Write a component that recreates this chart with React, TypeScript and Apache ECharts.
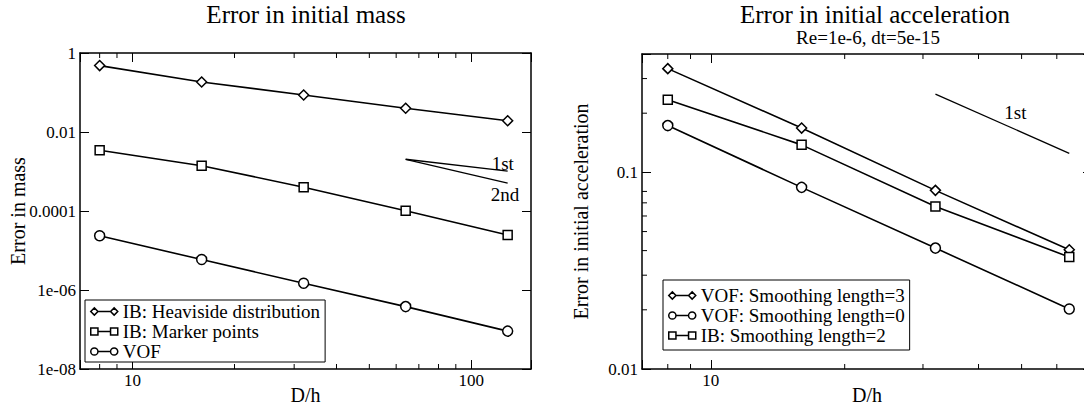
import React, { useEffect, useRef } from "react";
import * as echarts from "echarts";

// ---------- data ----------
const dhMass = [8, 16, 32, 64, 128];
const ibHeaviside = [0.48, 0.185, 0.0865, 0.04, 0.0193];
const ibMarker = [0.00344, 0.0014, 0.0004, 0.000102, 2.47e-5];
const vofMass = [2.37e-5, 5.9e-6, 1.48e-6, 3.8e-7, 9.1e-8];

const slopeMassX = [64, 128];
const slope1Mass = [0.00204, 0.00102];
const slope2Mass = [0.00204, 0.00051];

const dhAcc = [8, 16, 32, 64];
const vofSmooth3 = [0.337, 0.168, 0.081, 0.0404];
const vofSmooth0 = [0.173, 0.0839, 0.0412, 0.0202];
const ibSmooth2 = [0.234, 0.138, 0.0671, 0.0371];

const slopeAccX = [32, 64];
const slope1Acc = [0.25, 0.125];

const massYTickValues = [1e-8, 1e-6, 1e-4, 1e-2, 1];
const massYTickLabels = ["1e-08", "1e-06", "0.0001", "0.01", "1"];
const accYTickValues = [0.01, 0.1];
const accYTickLabels = ["0.01", "0.1"];
const xTickValues = [10, 100];
const xTickLabels = ["10", "100"];

const massMinorX = [8, 9, 20, 30, 40, 50, 60, 70, 80, 90];
const accMinorX = [8, 9, 20, 30, 40, 50, 60, 70];
const accMinorY = [0.02, 0.03, 0.04, 0.05, 0.06, 0.07, 0.08, 0.2, 0.3];

const FONT = "'Liberation Serif', 'Times New Roman', serif";

function labelFor(values: number[], labels: string[]) {
  return (v: number) => {
    for (let i = 0; i < values.length; i++) {
      if (Math.abs(Math.log10(v) - Math.log10(values[i])) < 1e-6) return labels[i];
    }
    return "";
  };
}

function xAxis(gridIndex: number, min: number, max: number, top: boolean) {
  return {
    type: "log",
    gridIndex,
    position: top ? "top" : "bottom",
    min,
    max,
    axisLine: { show: true, onZero: false, lineStyle: { color: "#000", width: 1.5 } },
    axisTick: { show: true, inside: true, length: 9, lineStyle: { color: "#000", width: 1 } },
    splitLine: { show: false },
    axisLabel: {
      show: !top,
      formatter: labelFor(xTickValues, xTickLabels),
      fontFamily: FONT,
      fontSize: 17,
      color: "#000",
      margin: 3,
    },
    name: top ? "" : "D/h",
    nameLocation: "middle",
    nameGap: 16,
    nameMoveOverlap: false,
    nameTextStyle: { fontFamily: FONT, fontSize: 20, color: "#000" },
  };
}

function yAxis(
  gridIndex: number,
  min: number,
  max: number,
  right: boolean,
  interval: number | undefined,
  vals: number[],
  labs: string[],
  name: string,
  nameGap: number
) {
  return {
    type: "log",
    gridIndex,
    position: right ? "right" : "left",
    min,
    max,
    interval,
    axisLine: { show: true, onZero: false, lineStyle: { color: "#000", width: 1.5 } },
    axisTick: { show: true, inside: true, length: 9, lineStyle: { color: "#000", width: 1 } },
    splitLine: { show: false },
    axisLabel: {
      show: !right,
      formatter: labelFor(vals, labs),
      fontFamily: FONT,
      fontSize: 17,
      color: "#000",
      margin: 4,
    },
    name: right ? "" : name,
    nameLocation: "middle",
    nameGap,
    nameMoveOverlap: false,
    nameTextStyle: { fontFamily: FONT, fontSize: 20, color: "#000" },
  };
}

const markerStyle = { color: "#fff", borderColor: "#000", borderWidth: 1.5 };
const lineStyle = { color: "#000", width: 1.6 };

function dataSeries(
  name: string,
  xs: number[],
  ys: number[],
  symbol: string,
  symbolSize: number,
  xi: number,
  yi: number
) {
  return {
    name,
    type: "line",
    xAxisIndex: xi,
    yAxisIndex: yi,
    data: xs.map((x, i) => [x, ys[i]]),
    symbol,
    symbolSize,
    showSymbol: true,
    itemStyle: markerStyle,
    lineStyle,
    z: 3,
  };
}

function slopeSeries(
  name: string,
  xs: number[],
  ys: number[],
  xi: number,
  yi: number,
  offset: number[]
) {
  return {
    name,
    type: "line",
    xAxisIndex: xi,
    yAxisIndex: yi,
    data: xs.map((x, i) => [x, ys[i]]),
    symbol: "none",
    lineStyle: { color: "#000", width: 1.3 },
    endLabel: {
      show: true,
      formatter: name.trim(),
      fontFamily: FONT,
      fontSize: 19,
      color: "#000",
      offset,
    },
  };
}

function minorTickSeries(xi: number, yi: number, values: number[], dir: "x" | "y", other: number) {
  return {
    type: "custom",
    xAxisIndex: xi,
    yAxisIndex: yi,
    silent: true,
    data: values.map((v) => (dir === "x" ? [v, other] : [other, v])),
    renderItem: (params: any, api: any) => {
      const p = api.coord([api.value(0), api.value(1)]);
      const cs = params.coordSys;
      const st = { stroke: "#000", lineWidth: 1 };
      if (dir === "x") {
        const b = cs.y + cs.height;
        return {
          type: "group",
          children: [
            { type: "line", shape: { x1: p[0], y1: b, x2: p[0], y2: b - 5 }, style: st },
            { type: "line", shape: { x1: p[0], y1: cs.y, x2: p[0], y2: cs.y + 5 }, style: st },
          ],
        };
      }
      const r = cs.x + cs.width;
      return {
        type: "group",
        children: [
          { type: "line", shape: { x1: cs.x, y1: p[1], x2: cs.x + 5, y2: p[1] }, style: st },
          { type: "line", shape: { x1: r, y1: p[1], x2: r - 5, y2: p[1] }, style: st },
        ],
      };
    },
  };
}

const ICON_DIAMOND = "path://M0,5L4,1L8,5L4,9ZM8,5L22,5M22,5L26,1L30,5L26,9Z";
const ICON_SQUARE = "path://M0,1L8,1L8,9L0,9ZM8,5L22,5M22,1L30,1L30,9L22,9Z";
const ICON_CIRCLE =
  "path://M8,5A4,4,0,1,1,0,5A4,4,0,1,1,8,5ZM8,5L22,5M30,5A4,4,0,1,1,22,5A4,4,0,1,1,30,5Z";

const legendText = { fontFamily: FONT, fontSize: 19, color: "#000" };

const legendBase = {
  orient: "vertical",
  itemWidth: 27,
  itemHeight: 9,
  itemGap: 1,
  borderColor: "#000",
  borderWidth: 1,
  backgroundColor: "#fff",
  borderRadius: 0,
  selectedMode: false,
  textStyle: legendText,
  itemStyle: { color: "#fff", borderColor: "#000", borderWidth: 1.5 },
};

const titleStyle = { fontFamily: FONT, fontSize: 25, fontWeight: "normal", color: "#000" };

export default function App() {
  const ref = useRef<HTMLDivElement>(null);
  useEffect(() => {
    if (!ref.current) return;
    const chart = echarts.init(ref.current, undefined, { renderer: "svg" });
    chart.setOption({
      animation: false,
      backgroundColor: "#fff",
      textStyle: { fontFamily: FONT },
      title: [
        { text: "Error in initial mass", left: 306, top: 2, padding: 0, textAlign: "center", textStyle: titleStyle },
        { text: "Error in initial acceleration", left: 875, top: 2, padding: 0, textAlign: "center", textStyle: titleStyle },
        {
          text: "Re=1e-6, dt=5e-15",
          left: 868,
          top: 28,
          padding: 0,
          textAlign: "center",
          textStyle: { fontFamily: FONT, fontSize: 19, fontWeight: "normal", color: "#000" },
        },
      ],
      grid: [
        { left: 80, top: 53, width: 451, height: 316, outerBoundsMode: "none", containLabel: false },
        { left: 642, top: 54, width: 450, height: 315, outerBoundsMode: "none", containLabel: false },
      ],
      xAxis: [
        xAxis(0, 7, 150, false),
        xAxis(0, 7, 150, true),
        xAxis(1, 7, 72, false),
        xAxis(1, 7, 72, true),
      ],
      yAxis: [
        yAxis(0, 1e-8, 1, false, 2, massYTickValues, massYTickLabels, "Error in mass", 52),
        yAxis(0, 1e-8, 1, true, 2, massYTickValues, massYTickLabels, "", 0),
        yAxis(1, 0.01, 0.4, false, undefined, accYTickValues, accYTickLabels, "Error in initial acceleration", 51),
        yAxis(1, 0.01, 0.4, true, undefined, accYTickValues, accYTickLabels, "", 0),
      ],
      legend: [
        {
          ...legendBase,
          left: 85,
          top: 300,
          padding: [2, 5, 1, 5],
          data: [
            { name: "IB: Heaviside distribution", icon: ICON_DIAMOND },
            { name: "IB: Marker points", icon: ICON_SQUARE },
            { name: "VOF", icon: ICON_CIRCLE },
          ],
        },
        {
          ...legendBase,
          left: 663,
          top: 280,
          padding: [6, 5, 5, 5],
          data: [
            { name: "VOF: Smoothing length=3", icon: ICON_DIAMOND },
            { name: "VOF: Smoothing length=0", icon: ICON_CIRCLE },
            { name: "IB: Smoothing length=2", icon: ICON_SQUARE },
          ],
        },
      ],
      series: [
        dataSeries("IB: Heaviside distribution", dhMass, ibHeaviside, "diamond", 10, 0, 0),
        dataSeries("IB: Marker points", dhMass, ibMarker, "rect", 9, 0, 0),
        dataSeries("VOF", dhMass, vofMass, "circle", 10, 0, 0),
        slopeSeries("1st", slopeMassX, slope1Mass, 0, 0, [-24, -8]),
        slopeSeries("2nd", slopeMassX, slope2Mass, 0, 0, [-25, 11]),
        minorTickSeries(0, 0, massMinorX, "x", 1e-8),
        dataSeries("VOF: Smoothing length=3", dhAcc, vofSmooth3, "diamond", 10, 2, 2),
        dataSeries("VOF: Smoothing length=0", dhAcc, vofSmooth0, "circle", 10, 2, 2),
        dataSeries("IB: Smoothing length=2", dhAcc, ibSmooth2, "rect", 9, 2, 2),
        slopeSeries("1st ", slopeAccX, slope1Acc, 2, 2, [-73, -41]),
        minorTickSeries(2, 2, accMinorX, "x", 0.01),
        minorTickSeries(2, 2, accMinorY, "y", 7),
      ],
    });
    return () => chart.dispose();
  }, []);
  return (
    <div
      ref={ref}
      style={{ position: "fixed", left: 0, top: 0, width: 1084, height: 405, background: "#fff" }}
    />
  );
}
